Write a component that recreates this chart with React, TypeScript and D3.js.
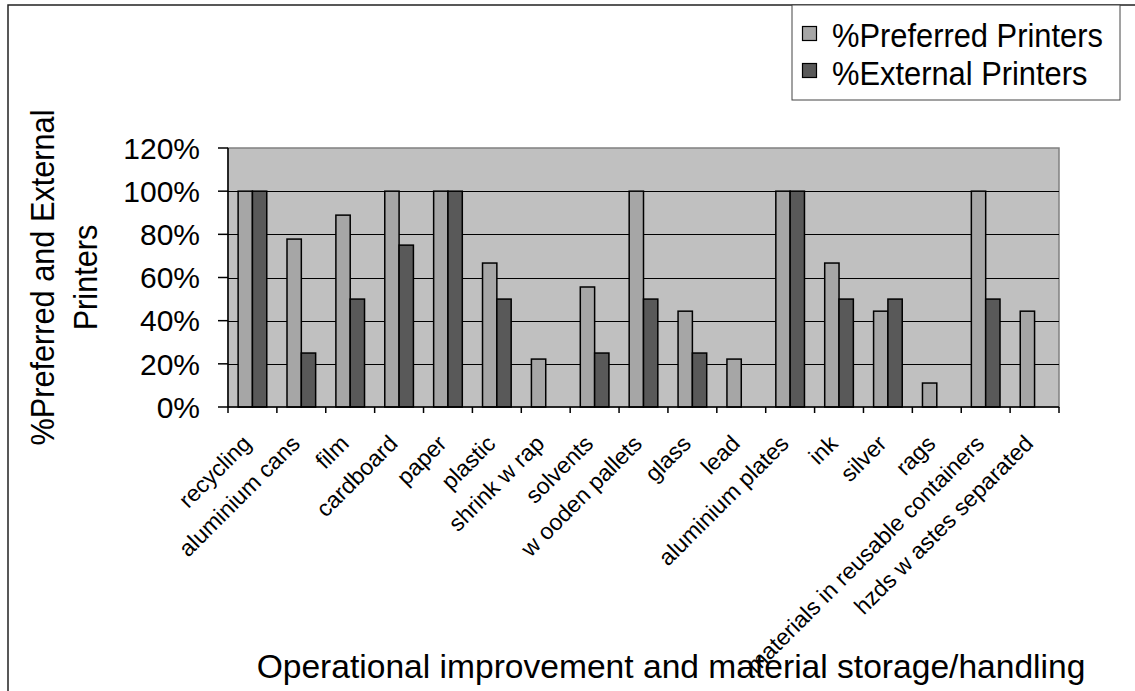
import React from "react";
import * as d3 from "d3";

// Categories along the x axis
const categories: string[] = [
  "recycling",
  "aluminium cans",
  "film",
  "cardboard",
  "paper",
  "plastic",
  "shrink w rap",
  "solvents",
  "w ooden pallets",
  "glass",
  "lead",
  "aluminium plates",
  "ink",
  "silver",
  "rags",
  "materials in reusable containers",
  "hzds w astes separated",
];

// Share of preferred printers (%)
const preferred: number[] = [
  100, 77.8, 88.9, 100, 100, 66.7, 22.2, 55.6, 100, 44.4, 22.2, 100, 66.7, 44.4, 11.1, 100, 44.4,
];

// Share of external printers (%)
const external: number[] = [
  100, 25, 50, 75, 100, 50, 0, 25, 50, 25, 0, 100, 50, 50, 0, 50, 0,
];

const seriesNames: string[] = ["%Preferred Printers", "%External Printers"];
const yTicks: number[] = [0, 20, 40, 60, 80, 100, 120];

const W = 1135;
const H = 691;
const FONT = "'Liberation Sans', Arial, Helvetica, sans-serif";

const plot = { left: 228, right: 1059, top: 148, bottom: 407 };
const colors = { preferred: "#a6a6a6", external: "#595959", plotBg: "#c0c0c0" };

export default function App() {
  const x = d3
    .scaleBand<string>()
    .domain(categories)
    .range([plot.left, plot.right])
    .paddingInner(0)
    .paddingOuter(0);
  const y = d3.scaleLinear().domain([0, 120]).range([plot.bottom, plot.top]);

  const band = x.bandwidth();
  const barW = band * 0.293;
  const yMid = (plot.top + plot.bottom) / 2;

  const series = [
    { name: seriesNames[0], values: preferred, color: colors.preferred, offset: -barW },
    { name: seriesNames[1], values: external, color: colors.external, offset: 0 },
  ];

  return (
    <svg
      width={W}
      height={H}
      style={{ position: "absolute", left: 0, top: 0, background: "#fff" }}
      fontFamily={FONT}
    >
      {/* chart frame */}
      <rect x={8} y={5} width={W + 20} height={H + 20} fill="#fff" stroke="#222" strokeWidth={1.5} />

      {/* plot area */}
      <rect
        x={plot.left}
        y={plot.top}
        width={plot.right - plot.left}
        height={plot.bottom - plot.top}
        fill={colors.plotBg}
        stroke="#808080"
        strokeWidth={1.5}
      />

      {/* gridlines */}
      {yTicks
        .filter((t) => t > 0 && t < 120)
        .map((t) => (
          <line
            key={`g${t}`}
            x1={plot.left}
            x2={plot.right}
            y1={Math.round(y(t)) + 0.5}
            y2={Math.round(y(t)) + 0.5}
            stroke="#000"
            strokeWidth={1}
          />
        ))}

      {/* bars */}
      {series.map((s) =>
        categories.map((c, i) => {
          const v = s.values[i];
          if (v <= 0) return null;
          const cx = (x(c) as number) + band / 2;
          return (
            <rect
              key={`${s.name}-${c}`}
              x={cx + s.offset}
              y={y(v)}
              width={barW}
              height={y(0) - y(v)}
              fill={s.color}
              stroke="#000"
              strokeWidth={1.5}
            />
          );
        })
      )}

      {/* y axis */}
      <line x1={plot.left} x2={plot.left} y1={plot.top} y2={plot.bottom} stroke="#000" strokeWidth={1.5} />
      {yTicks.map((t) => (
        <g key={`yt${t}`}>
          <line x1={plot.left - 10} x2={plot.left} y1={y(t)} y2={y(t)} stroke="#000" strokeWidth={1.5} />
          <text x={200} y={y(t)} dy="0.36em" textAnchor="end" fontSize={30} fill="#000">
            {`${t}%`}
          </text>
        </g>
      ))}

      {/* x axis */}
      <line x1={plot.left} x2={plot.right} y1={plot.bottom} y2={plot.bottom} stroke="#000" strokeWidth={1.5} />
      {d3.range(categories.length + 1).map((i) => {
        const tx = plot.left + i * band;
        return <line key={`xt${i}`} x1={tx} x2={tx} y1={plot.bottom} y2={plot.bottom + 6} stroke="#000" strokeWidth={1.5} />;
      })}
      {categories.map((c) => {
        const cx = (x(c) as number) + band / 2;
        const ay = 445;
        return (
          <text
            key={`xl${c}`}
            x={cx}
            y={ay}
            textAnchor="end"
            fontSize={23}
            fill="#000"
            transform={`rotate(-45, ${cx}, ${ay})`}
          >
            {c}
          </text>
        );
      })}

      {/* axis titles */}
      <text x={671} y={678} textAnchor="middle" fontSize={33.6} fill="#000">
        Operational improvement and material storage/handling
      </text>
      <text transform={`translate(54, ${yMid}) rotate(-90) scale(0.93, 1)`} textAnchor="middle" fontSize={33} fill="#000">
        %Preferred and External
      </text>
      <text transform={`translate(97, ${yMid}) rotate(-90) scale(0.93, 1)`} textAnchor="middle" fontSize={33} fill="#000">
        Printers
      </text>

      {/* legend */}
      <rect x={792} y={5} width={328} height={95} fill="#fff" stroke="#444" strokeWidth={1} />
      {series.map((s, i) => (
        <g key={`lg${i}`}>
          <rect x={802.5} y={26.5 + i * 37} width={14} height={14} fill={s.color} stroke="#000" strokeWidth={1.2} />
          <text transform={`translate(832, ${47 + i * 38}) scale(0.935, 1)`} fontSize={33} fill="#000">
            {s.name}
          </text>
        </g>
      ))}
    </svg>
  );
}
